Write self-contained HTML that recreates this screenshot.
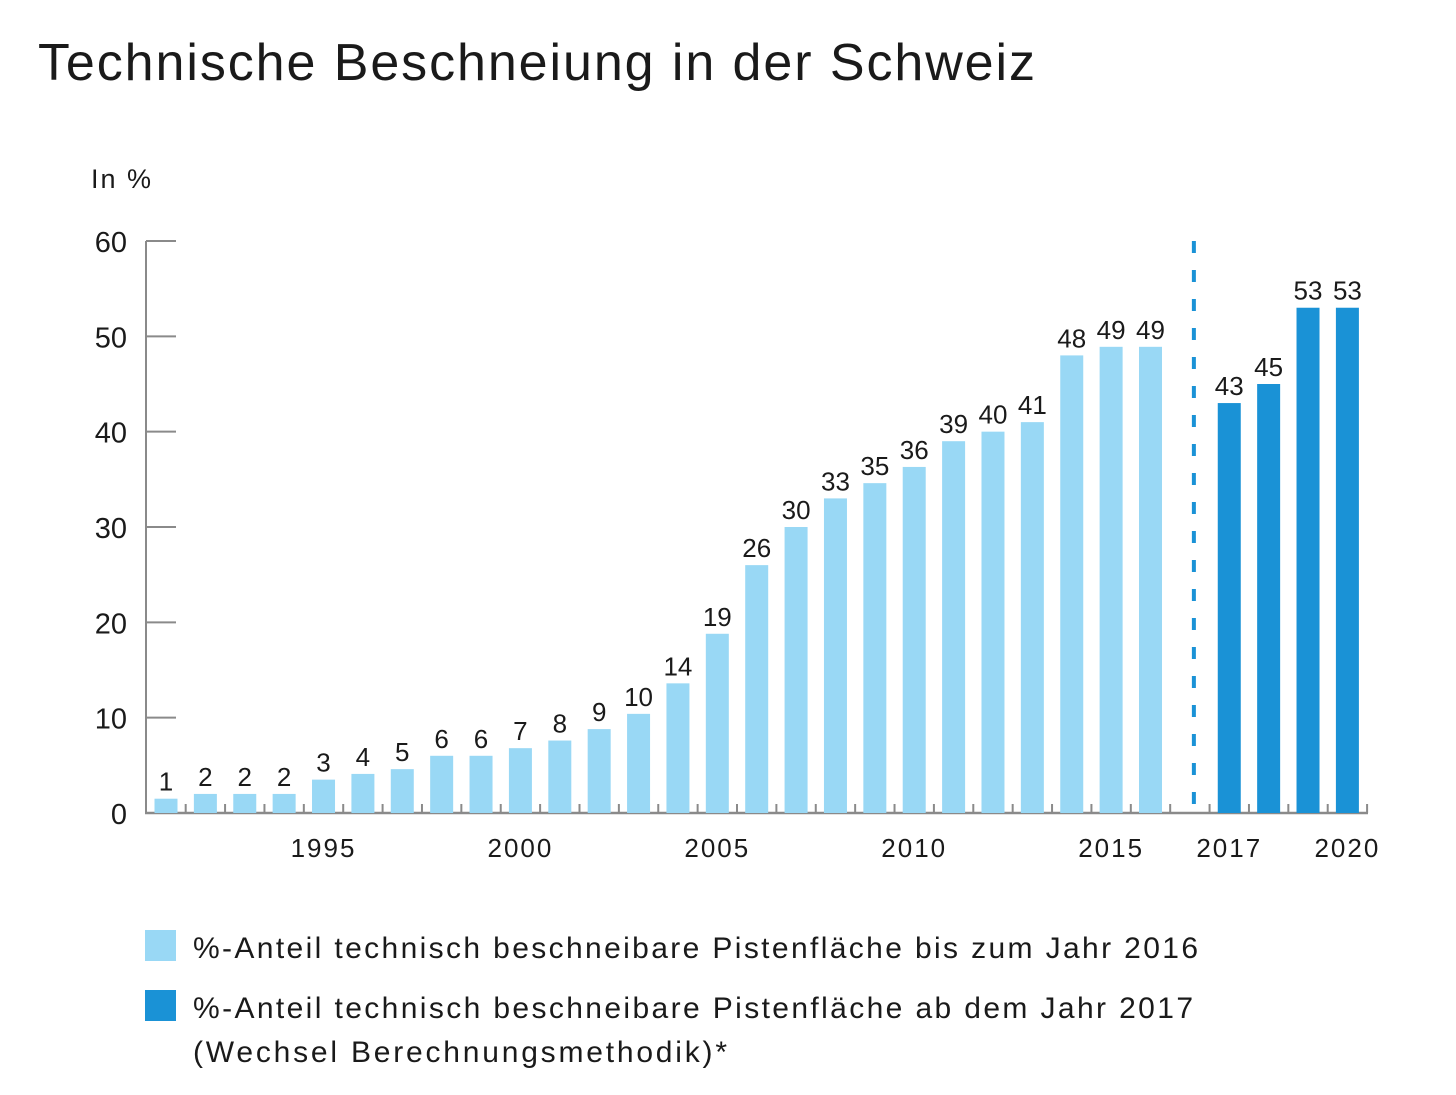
<!DOCTYPE html>
<html><head><meta charset="utf-8">
<style>
body{margin:0;background:#fff;}
svg{display:block;font-family:"Liberation Sans",sans-serif;}
</style></head>
<body>
<svg id="chart" width="1456" height="1095">
<text x="38" y="80" font-size="52" fill="#1a1a1a" textLength="997" lengthAdjust="spacing">Technische Beschneiung in der Schweiz</text>
<text x="91" y="188" font-size="27" fill="#1a1a1a" textLength="60" lengthAdjust="spacing">In %</text>
<g id="grid"></g>
<g id="bars"></g>
<g>
<rect x="145" y="930" width="31" height="31" fill="#99d8f5"/>
<text x="193" y="958" font-size="30" fill="#1a1a1a" textLength="1005" lengthAdjust="spacing">%-Anteil technisch beschneibare Pistenfläche bis zum Jahr 2016</text>
<rect x="145" y="990" width="31" height="31" fill="#1a92d6"/>
<text x="193" y="1018" font-size="30" fill="#1a1a1a" textLength="1000" lengthAdjust="spacing">%-Anteil technisch beschneibare Pistenfläche ab dem Jahr 2017</text>
<text x="193" y="1062" font-size="30" fill="#1a1a1a" textLength="534" lengthAdjust="spacing">(Wechsel Berechnungsmethodik)*</text>
</g>
</svg>
<script>
const oldYears=[1991,1992,1993,1994,1995,1996,1997,1998,1999,2000,2001,2002,2003,2004,2005,2006,2007,2008,2009,2010,2011,2012,2013,2014,2015,2016];
const oldValues=[1.5,2,2,2,3.5,4.1,4.6,6,6,6.8,7.6,8.8,10.4,13.6,18.8,26,30,33,34.6,36.3,39,40,41,48,48.9,48.9];
const oldLabels=["1","2","2","2","3","4","5","6","6","7","8","9","10","14","19","26","30","33","35","36","39","40","41","48","49","49"];
const newYears=[2017,2018,2019,2020];
const newValues=[43,45,53,53];
const newLabels=["43","45","53","53"];
const yTicks=[0,10,20,30,40,50,60];
const xLabelYears=[1995,2000,2005,2010,2015,2017,2020];

const NS="http://www.w3.org/2000/svg";
const y0=813,pxPer=(813-241)/60;
function yScale(v){return y0-v*pxPer;}
const slot=39.38,x0=166;
function slotIndex(yr){return yr<=2016?yr-1991:yr-1991+1;}
function xScale(yr){return x0+slotIndex(yr)*slot;}
function mk(tag,attrs,parent){const e=document.createElementNS(NS,tag);for(const k in attrs)e.setAttribute(k,attrs[k]);parent.appendChild(e);return e;}
const grid=document.getElementById('grid'),bars=document.getElementById('bars');

let ya=mk('line',{x1:146,y1:241,x2:146,y2:814,stroke:'#8a8a8a','stroke-width':2},grid);


yTicks.forEach(v=>{
  let t=mk('line',{x1:146,y1:yScale(v),x2:176,y2:yScale(v),stroke:'#8a8a8a','stroke-width':2},grid);
  
  
  let l=mk('text',{x:127,y:yScale(v)+11,'font-size':29,'text-anchor':'end',fill:'#1a1a1a'},grid);
  l.textContent=v;
  
  
});
let xa=mk('line',{x1:145,y1:813,x2:1368,y2:813,stroke:'#8a8a8a','stroke-width':2.5},grid);


for(let i=0;i<=30;i++){
  const x=x0+(i+0.5)*slot;
  let t=mk('line',{x1:x,y1:804,x2:x,y2:813,stroke:'#8a8a8a','stroke-width':2},grid);
  
  
}
xLabelYears.forEach(yr=>{
  let l=mk('text',{x:xScale(yr),y:857,'font-size':26,'text-anchor':'middle',fill:'#1a1a1a','letter-spacing':2},grid);
  l.textContent=yr;
  
  
});
let dv=mk('line',{x1:x0+26*slot+4,y1:241,x2:x0+26*slot+4,y2:806,stroke:'#1a92d6','stroke-width':4,'stroke-dasharray':'12 17'},grid);



function drawBars(years,vals,labels,color,name){
  years.forEach((yr,i)=>{
    const x=xScale(yr),y=yScale(vals[i]);
    let r=mk('rect',{x:x-11.5,y:y,width:23,height:y0-y,fill:color},bars);
    
    
    let t=mk('text',{x:x,y:y-8,'font-size':26,'text-anchor':'middle',fill:'#1a1a1a'},bars);
    t.textContent=labels[i];
    
    
  });
}
drawBars(oldYears,oldValues,oldLabels,'#99d8f5','bar');
drawBars(newYears,newValues,newLabels,'#1a92d6','bar');
</script>
</body></html>
